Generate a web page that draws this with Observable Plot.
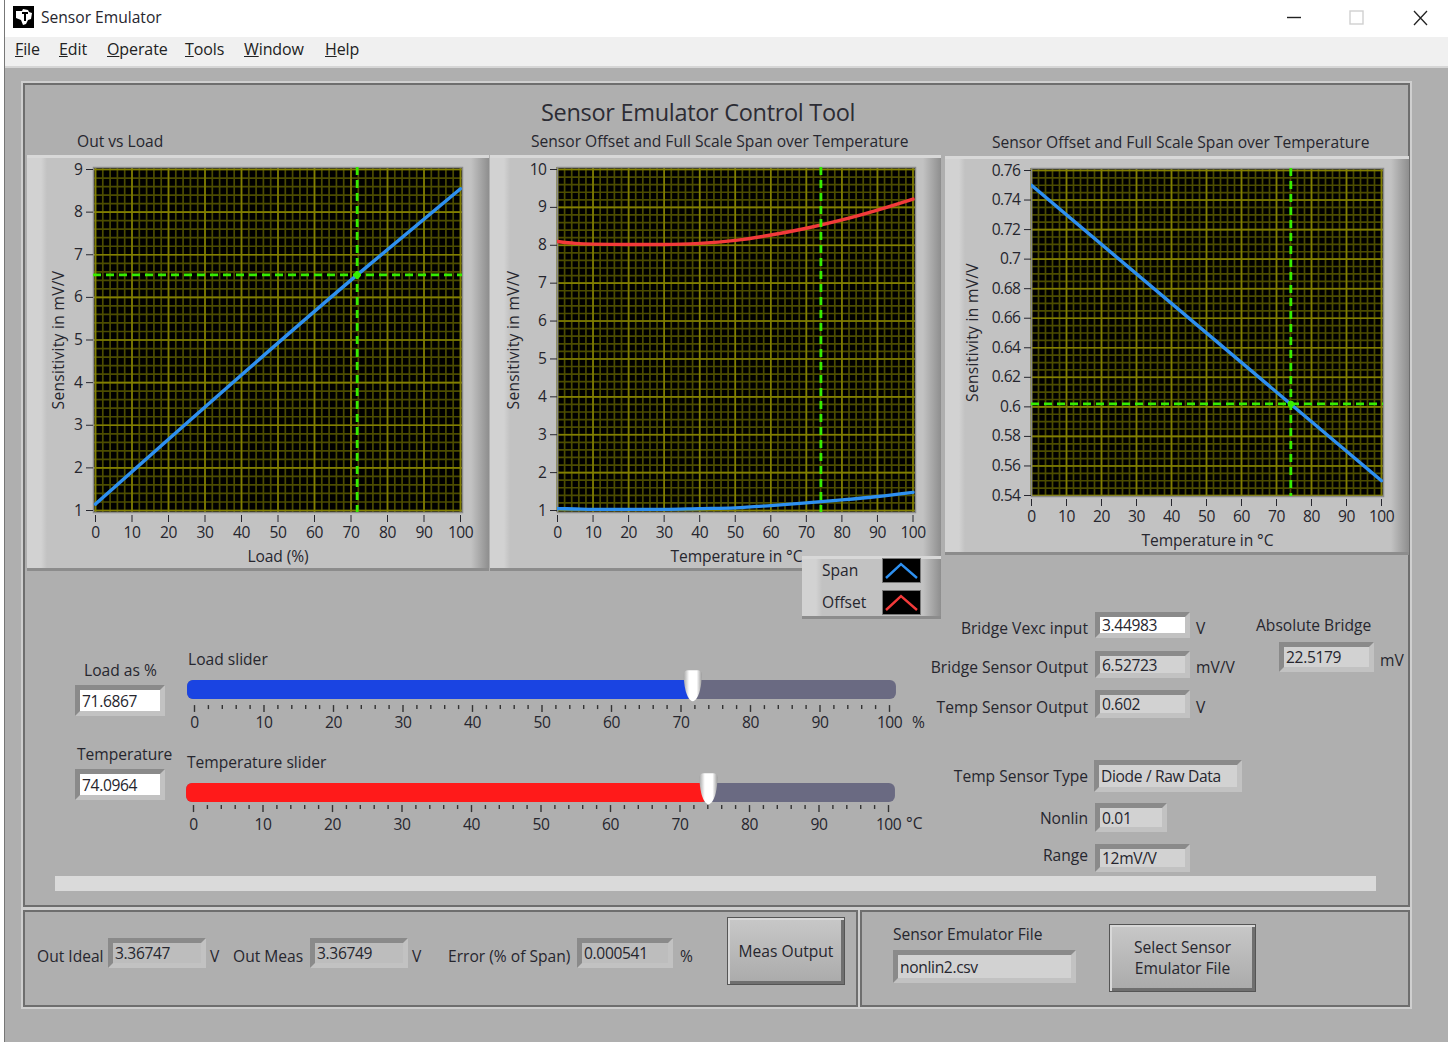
<!DOCTYPE html>
<html><head><meta charset="utf-8">
<script src="https://cdn.jsdelivr.net/npm/d3@7"></script>
<script src="https://cdn.jsdelivr.net/npm/@observablehq/plot@0.6"></script>
<style>
html,body{margin:0;padding:0;background:#fff;}
body{width:1448px;height:1042px;position:relative;overflow:hidden;font-family:"Open Sans","Noto Sans",sans-serif;color:#26262e;}
.a{position:absolute;box-sizing:border-box;}
.t{position:absolute;white-space:pre;line-height:1;transform:translateY(-50%);font-size:15.6px;margin-top:1px;}
.box{position:absolute;box-sizing:border-box;border:5px solid;border-color:#8a8a8a #c2c2c2 #c2c2c2 #8a8a8a;font-size:15.6px;letter-spacing:-.35px;padding-left:2px;display:flex;align-items:center;white-space:pre;}
.btn{position:absolute;box-sizing:border-box;border:1px solid #555;background:linear-gradient(180deg,#c8c8c8,#aaa);box-shadow:inset 2px 2px 0 #d8d8d8,inset -3px -3px 0 #6f6f6f;display:flex;align-items:center;justify-content:center;text-align:center;font-size:15.6px;line-height:21px;}
.panel{position:absolute;box-sizing:border-box;background:linear-gradient(90deg,#d2d2d2 0,#d2d2d2 14px,#c2c2c2 20px,#c2c2c2 calc(100% - 18px),#8e8e8e 100%);border-top:3px solid #d8d8d8;border-bottom:3px solid #8c8c8c;}
svg{position:absolute;overflow:visible;background:transparent;}
svg text{font-family:"Open Sans","Noto Sans",sans-serif;}
g[aria-label="x-axis tick label"] text,g[aria-label="y-axis tick label"] text,g.slabels text{letter-spacing:-.5px;}
g[aria-label="x-axis label"] text{letter-spacing:-.1px;}
g[aria-label="y-axis label"] text{letter-spacing:.3px;}
</style></head><body>
<svg width="0" height="0" style="position:absolute"><defs>
<linearGradient id="thumb" x1="0" x2="1" y1="0" y2="0"><stop offset="0" stop-color="#a8a8a8"/><stop offset=".3" stop-color="#fff"/><stop offset=".72" stop-color="#fff"/><stop offset="1" stop-color="#9c9c9c"/></linearGradient>
</defs></svg>
<script>
// ---------- data ----------
const loadPct   = [0, 71.6867, 100];
const outSens   = [1.15, 6.527, 8.55];
const load      = 71.6867;
const bridgeOut = 6.52723;
const temps     = [0, 5, 10, 20, 30, 40, 50, 60, 70, 80, 90, 100];
const spanVals  = [1.05, 1.04, 1.03, 1.03, 1.03, 1.05, 1.07, 1.13, 1.2, 1.28, 1.37, 1.48];
const offsetVals= [8.1, 8.05, 8.03, 8.02, 8.02, 8.05, 8.13, 8.27, 8.45, 8.67, 8.93, 9.22];
const temperature = 74.0964;
const tempEnds  = [0, 100];
const tempSens  = [0.75, 0.55];
const tempOut   = 0.602;
const xTicks    = d3.range(0, 101, 10);
const xMinor    = d3.range(0, 101, 2);
const y1Ticks   = d3.range(1, 10, 1);
const y1Minor   = d3.range(1, 9.01, 0.2);
const y2Ticks   = d3.range(1, 11, 1);
const y2Minor   = d3.range(1, 10.01, 0.2);
const y3Ticks   = d3.range(27, 39).map(d => d * 0.02);
const y3Minor   = d3.range(108, 153).map(d => d * 0.005);

const labels = [
 ["Sensor Emulator",41,17],
 ["Out vs Load",77,141],
 ["Sensor Offset and Full Scale Span over Temperature",531,141],
 ["Sensor Offset and Full Scale Span over Temperature",992,142],
 ["Span",822,570],["Offset",822,602],
 ["Load as %",84,670],["Temperature",77,754],
 ["Load slider",188,659],["Temperature slider",187,762],
 ["%",912,722],["°C",906,823],
 ["V",1196,628],["mV/V",1196,667],["V",1196,707],
 ["Absolute Bridge",1256,625],["mV",1380,660],
 ["Out Ideal",37,956],["V",210,956],["Out Meas",233,956],["V",412,956],
 ["Error (% of Span)",448,956],["%",680,956],
 ["Sensor Emulator File",893,934]
];
const rightLabels = [
 ["Bridge Vexc input",1088,628],["Bridge Sensor Output",1088,667],["Temp Sensor Output",1088,707],
 ["Temp Sensor Type",1088,776],["Nonlin",1088,818],["Range",1088,855]
];
const boxes = [
 ["3.44983",1095,612,95,26,"#fff"],["6.52723",1095,651,95,27,"#d2d2d2"],["0.602",1095,690,95,28,"#d2d2d2"],
 ["22.5179",1279,642,95,30,"#d2d2d2"],["Diode / Raw Data",1094,760,148,32,"#d2d2d2"],
 ["0.01",1095,803,72,29,"#d2d2d2"],["12mV/V",1095,844,95,28,"#d2d2d2"],
 ["71.6867",75,685,90,31,"#fff"],["74.0964",75,769,90,31,"#fff"],
 ["3.36747",108,938,98,30,"#bdbdbd"],["3.36749",310,938,98,30,"#bdbdbd"],["0.000541",577,938,96,30,"#bdbdbd"],
 ["nonlin2.csv",893,950,183,33,"#d2d2d2"]
];
const menu = [["File",15],["Edit",59],["Operate",107],["Tools",185],["Window",244],["Help",325]];

// ---------- helpers ----------
const body = document.body;
function div(cls, css, html){const d=document.createElement("div");d.className=cls;d.style.cssText=css;if(html!=null)d.innerHTML=html;body.appendChild(d);return d;}
function rect(x,y,w,h,css){return div("a",`left:${x}px;top:${y}px;width:${w}px;height:${h}px;${css||""}`);}
function txt(s,x,y,css){return div("t",`left:${x}px;top:${y}px;${css||""}`,s);}

// ---------- window chrome ----------
rect(0,0,1448,37,"background:#fff");
rect(0,37,1448,29,"background:#f0f0f0");
rect(0,66,1448,976,"background:#afafaf;border-top:2px solid #d6d6d6");
rect(0,0,5,1042,"background:#fff;border-right:1px solid #777");
rect(13,6,21,22,"background:#000");
div("a","left:13px;top:6px;width:21px;height:22px",'<svg width="21" height="22" style="position:static"><path d="M3 5h6l1-2 5 1 1 2 3 1-1 6-3 1-2 4-3 1-2-5-5-2z" fill="#fff"/><path d="M9 7h6M12 7v8" stroke="#000" stroke-width="2"/></svg>');
div("a","left:1280px;top:6px;width:160px;height:24px",'<svg width="160" height="24" style="position:static"><path d="M7 11.5h14" stroke="#222" stroke-width="1.4"/><rect x="70" y="5" width="13" height="13" fill="none" stroke="#d0d0d0" stroke-width="1.4"/><path d="M134 5l13 14M147 5l-13 14" stroke="#222" stroke-width="1.3"/></svg>');
menu.forEach(([s,x])=>txt(`<u>${s[0]}</u>${s.slice(1)}`,x,48,"font-size:16px;letter-spacing:-.1px;color:#222"));

// ---------- front panel frames ----------
const frame="border:2px solid #6e6e6e;outline:2px solid #cfcfcf;outline-offset:0;";
rect(23,83,1387,824,frame);
rect(23,910,835,97,frame);
rect(860,910,550,97,frame);
txt("Sensor Emulator Control Tool",541,112,"font-size:23.5px;letter-spacing:-.3px;color:#2c2c34");
div("panel","left:27px;top:155px;width:462px;height:416px");
div("panel","left:490px;top:155px;width:451px;height:416px");
div("panel","left:945px;top:156px;width:464px;height:399px");
rect(941,556,4,15,"background:#afafaf");
rect(55,876,1321,15,"background:#dadada");

// ---------- charts ----------
const gridCol="#4c4c00", majorCol="#827f00", green="#35ee00", blue="#2e90f0", red="#f23a3a";
function graph(o){
  const W=o.svgW,H=o.svgH;
  const marks=[
    Plot.frame({fill:"#000"}),
    Plot.ruleX(xMinor,{stroke:gridCol,strokeWidth:1.7}),
    Plot.ruleY(o.yMinor,{stroke:gridCol,strokeWidth:1.7}),
    Plot.ruleX(xTicks,{stroke:majorCol,strokeWidth:1.6}),
    Plot.ruleY(o.yTicks,{stroke:majorCol,strokeWidth:1.6}),
    Plot.frame({stroke:"#8a8a8a",strokeWidth:1.5}),
    Plot.axisX({ticks:xTicks,tickSize:7,tickPadding:4,tickFormat:d=>String(d),label:o.xLabel,labelAnchor:"center",labelOffset:o.xLabelOffset,labelArrow:"none",fontSize:15.6,color:"#26262e",dy:3}),
    Plot.axisY({ticks:o.yTicks,tickSize:7,tickPadding:4,tickFormat:o.fmt,label:"Sensitivity in mV/V",labelAnchor:"center",labelOffset:o.yLabelOffset,labelArrow:"none",fontSize:15.6,color:"#26262e"}),
    ...o.series.map(s=>Plot.line(s.x.map((x,i)=>({x,y:s.y[i]})),{x:"x",y:"y",stroke:s.c,strokeWidth:3.4,curve:"monotone-x",clip:true})),
    Plot.ruleX([o.cx],{stroke:green,strokeWidth:2.8,strokeDasharray:"8 5"}),
  ];
  if(o.cy!=null){
    marks.push(Plot.ruleY([o.cy],{stroke:green,strokeWidth:2.8,strokeDasharray:"8 5"}));
    marks.push(Plot.dot([{x:o.cx,y:o.cy}],{x:"x",y:"y",r:3.2,fill:green}));
  }
  const p=Plot.plot({
    width:W,height:H,style:{background:"transparent",overflow:"visible"},
    marginLeft:o.frameL-o.left,marginRight:o.left+W-o.frameR,marginTop:o.frameT-o.top,marginBottom:o.top+H-o.frameB,
    x:{domain:[0,100],range:[o.x0-o.left,o.x1-o.left]},
    y:{domain:o.yDomain,range:[o.y0-o.top,o.y1-o.top]},
    marks
  });
  p.style.position="absolute";p.style.left=o.left+"px";p.style.top=o.top+"px";
  body.appendChild(p);
}
graph({left:27,top:155,svgW:460,svgH:415,frameL:93,frameR:462,frameT:167,frameB:512,x0:95,x1:460,y0:510,y1:169,
  yDomain:[1,9],yTicks:y1Ticks,yMinor:y1Minor,fmt:d3.format("d"),xLabel:"Load (%)",xLabelOffset:49,yLabelOffset:41,
  series:[{x:loadPct,y:outSens,c:blue}],cx:load,cy:bridgeOut});
graph({left:490,top:155,svgW:448,svgH:415,frameL:557,frameR:915,frameT:167,frameB:512,x0:557,x1:912.5,y0:510,y1:169,
  yDomain:[1,10],yTicks:y2Ticks,yMinor:y2Minor,fmt:d3.format("d"),xLabel:"Temperature in °C",xLabelOffset:49,yLabelOffset:50,
  series:[{x:temps,y:spanVals,c:blue},{x:temps,y:offsetVals,c:red}],cx:temperature});
graph({left:945,top:156,svgW:460,svgH:398,frameL:1031,frameR:1383,frameT:168,frameB:496,x0:1031,x1:1381,y0:495,y1:170,
  yDomain:[0.54,0.76],yTicks:y3Ticks,yMinor:y3Minor,fmt:d=>d3.format("~g")(+d.toFixed(2)),xLabel:"Temperature in °C",xLabelOffset:49,yLabelOffset:65,
  series:[{x:tempEnds,y:tempSens,c:blue}],cx:temperature,cy:tempOut});

// ---------- legend ----------
div("panel","left:802px;top:556px;width:139px;height:63px");
[[558,blue],[590,red]].forEach(([y,c])=>{
  div("a",`left:882px;top:${y}px;width:39px;height:25px;background:#000;border:1px solid #777`,
   `<svg width="37" height="23" style="position:static"><path d="M3 19L18 5L34 19" fill="none" stroke="${c}" stroke-width="2.4"/></svg>`);
});

// ---------- sliders ----------
function slider(o){
  const W=760,H=70;
  const thumb={draw(ctx,size){ctx.moveTo(-9,-12);ctx.bezierCurveTo(-9,-15,-7,-16,-5,-16);ctx.lineTo(5,-16);ctx.bezierCurveTo(7,-16,9,-15,9,-12);ctx.bezierCurveTo(9,0,6,14,0,15);ctx.bezierCurveTo(-6,14,-9,0,-9,-12);ctx.closePath();}};
  const p=Plot.plot({
    width:W,height:H,style:{background:"transparent",overflow:"visible"},
    marginLeft:0,marginRight:0,marginTop:0,marginBottom:0,
    x:{axis:null,domain:[0,100],range:[o.x0-o.left,o.x1-o.left]},
    y:{axis:null,domain:[0,1],range:[o.trackB-o.top,o.trackT-o.top]},
    marks:[
      Plot.rect([{a:-1,b:101}],{x1:"a",x2:"b",y1:0,y2:1,fill:"#6a6a82",rx:6}),
      Plot.rect([{a:-1,b:o.v}],{x1:"a",x2:"b",y1:0,y2:1,fill:o.c,rx:6}),
      Plot.ruleX(d3.range(0,101,2).filter(d=>d%10),{y1:o.tTop,y2:o.tMin,stroke:"#333",strokeWidth:1.4}),
      Plot.ruleX(xTicks,{y1:o.tTop,y2:o.tMaj,stroke:"#333",strokeWidth:1.4}),
      Plot.text(xTicks,{x:d=>d,y:o.lab,text:d=>String(d),fontSize:15.6,fill:"#26262e",textAnchor:"middle",className:"slabels"}),
      Plot.dot([o.v],{x:d=>d,y:0.7,symbol:thumb,r:5,fill:"url(#thumb)",stroke:"none"})
    ]
  });
  p.style.position="absolute";p.style.left=o.left+"px";p.style.top=o.top+"px";
  body.appendChild(p);
}
slider({left:170,top:660,x0:194,x1:889,trackT:680,trackB:699,v:load,c:"#1a44e2",tTop:-0.32,tMin:-0.53,tMaj:-0.68,lab:-1.26});
slider({left:170,top:763,x0:193,x1:888,trackT:783,trackB:802,v:temperature,c:"#ff1a1a",tTop:-0.16,tMin:-0.37,tMaj:-0.53,lab:-1.16});

// ---------- text + boxes ----------
labels.forEach(([s,x,y])=>txt(s,x,y));
rightLabels.forEach(([s,x,y])=>txt(s,0,y,"left:auto;right:"+(1448-x)+"px"));
boxes.forEach(([s,x,y,w,h,bg])=>div("box",`left:${x}px;top:${y}px;width:${w}px;height:${h}px;background:${bg}`,s));
div("btn","left:727px;top:917px;width:118px;height:68px","Meas Output");
div("btn","left:1109px;top:924px;width:147px;height:68px","Select Sensor<br>Emulator File");
</script>
</body></html>
